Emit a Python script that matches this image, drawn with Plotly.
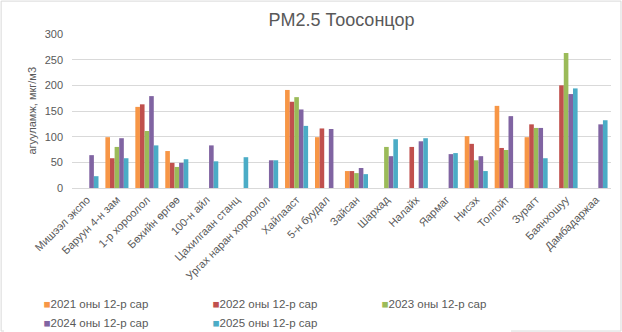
import plotly.graph_objects as go

categories = ["Мишээл экспо", "Баруун 4-н зам", "1-р хороолол", "Бөхийн өргөө", "100-н айл",
              "Цахилгаан станц", "Ургах наран хороолол", "Хайлааст", "5-н буудал", "Зайсан",
              "Шархад", "Налайх", "Яармаг", "Нисэх", "Толгойт", "Зурагт", "Баянхошуу", "Дамбадаржаа"]

s2021 = [None, 99, 158, 72, None, None, None, 191, 99, 33, None, None, None, 101, 160, 99, None, None]
s2022 = [None, 58, 163, 49, None, None, None, 168, 116, 33, None, 80, None, 86, 78, 124, 200, None]
s2023 = [None, 80, 111, 41, None, None, None, 177, None, 29, 80, None, None, 54, 74, 117, 263, None]
s2024 = [64, 97, 179, 49, 83, None, 54, 153, 115, 39, 62, 91, 66, 62, 140, 117, 183, 124]
s2025 = [23, 58, 83, 56, 52, 60, 54, 121, None, 27, 95, 97, 68, 33, None, 58, 194, 132]

series_names = ["2021 оны 12-р сар", "2022 оны 12-р сар", "2023 оны 12-р сар",
                "2024 оны 12-р сар", "2025 оны 12-р сар"]
series_values = [s2021, s2022, s2023, s2024, s2025]
colors = ["#F79646", "#C0504D", "#9BBB59", "#8064A2", "#4BACC6"]

y_ticks = [0, 50, 100, 150, 200, 250, 300]

W, H = 622, 332
ml, mr, mt, mb = 71.5, 10.5, 33.5, 144
pw, ph = W - ml - mr, H - mt - mb

fig = go.Figure()
for name, vals, c in zip(series_names, series_values, colors):
    fig.add_trace(go.Bar(x=categories, y=vals, name=name, marker_color=c,
                         marker_line_width=0, showlegend=False))
# legend entries: small square glyph in series colour followed by the series name
for name, c in zip(series_names, colors):
    fig.add_trace(go.Scatter(x=[None], y=[None], mode="markers",
                             marker=dict(size=0, color="rgba(0,0,0,0)",
                                         line=dict(width=0)),
                             name=f'<span style="color:{c}">■</span>{name}',
                             showlegend=True))

font_family = "Liberation Sans, Arial, sans-serif"
fig.update_layout(
    width=W, height=H,
    margin=dict(l=ml, r=mr, t=mt, b=mb, pad=0, autoexpand=False),
    paper_bgcolor="white", plot_bgcolor="white",
    barmode="group", bargap=0.23, bargroupgap=0,
    font=dict(family=font_family, color="#595959", size=11),
    title=dict(text="PM2.5 Тоосонцор", x=0.5, xref="paper", xanchor="center",
               y=1 - 20 / H, yanchor="middle", font=dict(size=18, color="#595959")),
    xaxis=dict(tickangle=-45, showgrid=False, showline=True, linecolor="#D9D9D9",
               linewidth=1, ticks="", automargin=False,
               tickfont=dict(size=11, color="#595959")),
    yaxis=dict(range=[0, 300], tickvals=y_ticks, showgrid=True, gridcolor="#D9D9D9",
               gridwidth=1, zeroline=False, showline=False, ticks="", automargin=False,
               ticklabelstandoff=8, tickfont=dict(size=11, color="#595959")),
    legend=dict(orientation="h", x=(3 - ml) / pw, xanchor="left",
                y=-(289 - mt - ph) / ph, yanchor="top",
                entrywidth=124, entrywidthmode="pixels", itemwidth=30,
                font=dict(size=11.5, color="#595959"), tracegroupgap=0,
                traceorder="normal"),
    annotations=[dict(text="агууламж, мкг/м3", textangle=-90, xref="paper", yref="paper",
                      x=(31 - ml) / pw, y=0.5, xanchor="center", yanchor="middle",
                      showarrow=False, font=dict(size=11, color="#595959"))],
    shapes=[dict(type="rect", xref="paper", yref="paper",
                 x0=(0.5 - ml) / pw, x1=(W - 0.5 - ml) / pw,
                 y0=-(mb - 0.5) / ph, y1=1 + (mt - 0.5) / ph,
                 line=dict(color="#D9D9D9", width=1), fillcolor="rgba(0,0,0,0)",
                 layer="below")],
)

fig.write_html("out.html")
